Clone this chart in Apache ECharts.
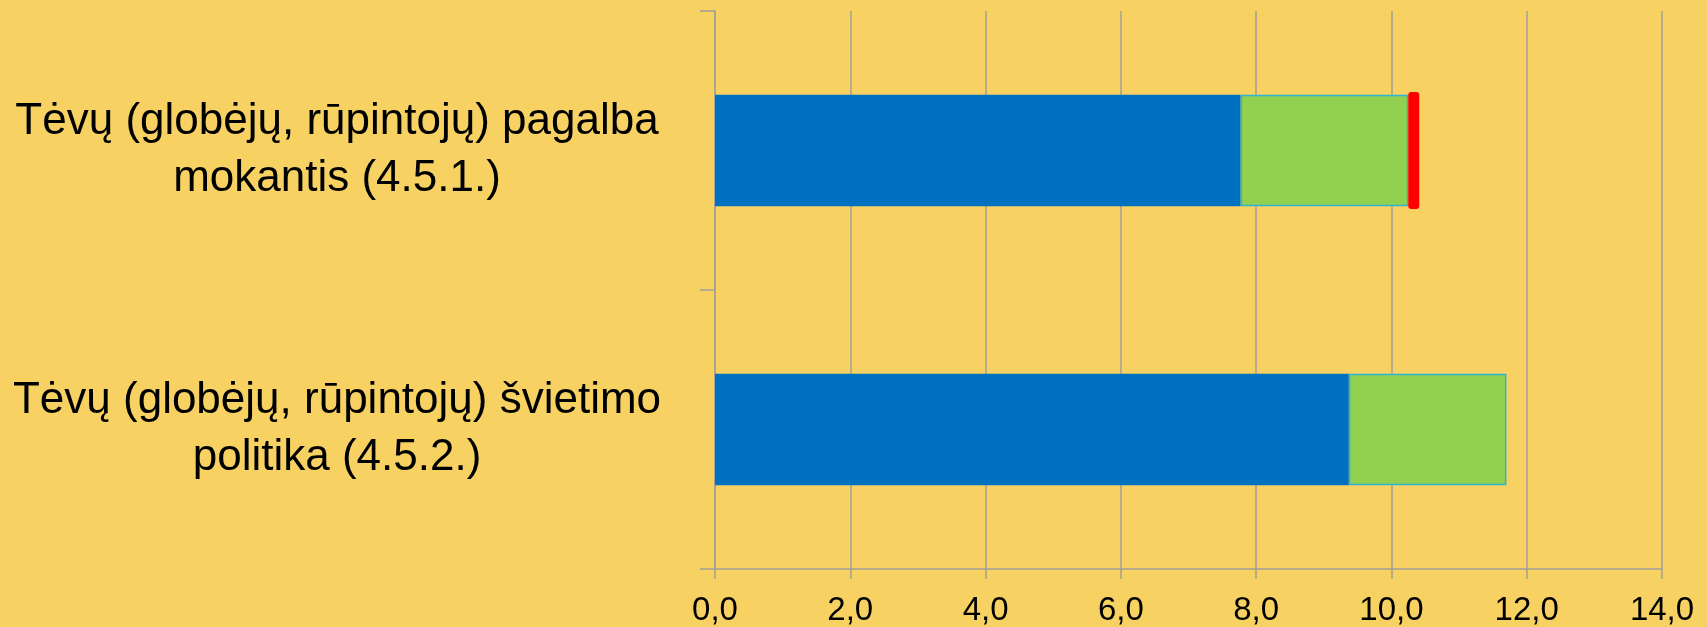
<!DOCTYPE html>
<html lang="lt">
<head>
    <meta charset="UTF-8">
    <title>Tėvų pagalba ir švietimo politika</title>
    <script src="https://cdn.jsdelivr.net/npm/echarts@6/dist/echarts.min.js"></script>
    <style>
        html, body { margin: 0; padding: 0; background: #f7d262; }
        #chart { width: 1707px; height: 627px; }
    </style>
</head>
<body>
<div id="chart"></div>
<script>
    // kategorijos (iš viršaus į apačią)
    const categories = [
        'Tėvų (globėjų, rūpintojų) pagalba\nmokantis (4.5.1.)',
        'Tėvų (globėjų, rūpintojų) švietimo\npolitika (4.5.2.)'
    ];
    const blueValues = [7.77, 9.37];
    const greenValues = [2.48, 2.33];
    const redMarker = [[10.33, 0]];
    const xTicks = { min: 0, max: 14, interval: 2 };

    const axisGray = '#a3a097';
    const font = '"Liberation Sans", sans-serif';

    const chart = echarts.init(document.getElementById('chart'));
    chart.setOption({
        backgroundColor: '#f7d262',
        animation: false,
        grid: { left: 715, right: 45, top: 11, bottom: 57, containLabel: false },
        xAxis: {
            type: 'value',
            min: xTicks.min,
            max: xTicks.max,
            interval: xTicks.interval,
            axisLine: { show: true, lineStyle: { color: axisGray, width: 1.5 } },
            axisTick: { show: true, length: 10, lineStyle: { color: axisGray, width: 1.5 } },
            splitLine: { show: true, lineStyle: { color: axisGray, width: 1.5 } },
            axisLabel: {
                color: '#000',
                fontFamily: font,
                fontSize: 33,
                margin: 25,
                formatter: v => v.toFixed(1).replace('.', ',')
            }
        },
        yAxis: {
            type: 'category',
            inverse: true,
            data: categories,
            axisLine: { show: true, lineStyle: { color: axisGray, width: 1.5 } },
            axisTick: { show: true, length: 15, lineStyle: { color: axisGray, width: 1.5 } },
            axisLabel: {
                color: '#000',
                fontFamily: font,
                fontSize: 44,
                lineHeight: 57,
                align: 'center',
                margin: 378
            }
        },
        series: [
            {
                type: 'bar',
                stack: 'total',
                barWidth: '40%',
                data: blueValues,
                itemStyle: { color: '#0070c0' }
            },
            {
                type: 'bar',
                stack: 'total',
                barWidth: '40%',
                data: greenValues,
                itemStyle: { color: '#92d050', borderColor: '#2fb3d3', borderWidth: 1.5 }
            },
            {
                type: 'custom',
                data: redMarker,
                z: 5,
                renderItem: function (params, api) {
                    const pt = api.coord([api.value(0), api.value(1)]);
                    const band = api.size([0, 1])[1];
                    const h = band * 0.42;
                    const w = 11;
                    return {
                        type: 'rect',
                        shape: { x: pt[0] - w / 2, y: pt[1] - h / 2, width: w, height: h, r: 3 },
                        style: { fill: '#ff0000' }
                    };
                }
            }
        ]
    });
</script>
</body>
</html>
